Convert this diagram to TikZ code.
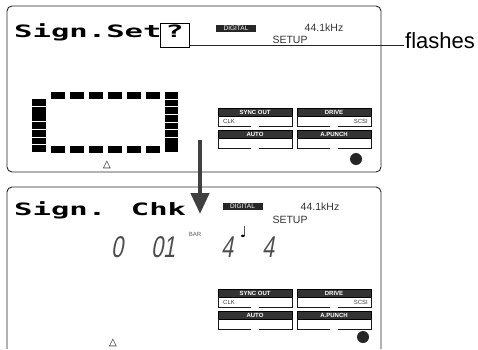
\documentclass[tikz,border=0pt]{standalone}
\usepackage{fontspec}
\setmainfont{Liberation Sans}
\newfontfamily\lcdfont[FakeStretch=1.8]{DejaVu Sans Mono}
\newfontfamily\segfont[FakeStretch=0.72,FakeSlant=0.18]{Liberation Sans}
\newfontfamily\symfont{DejaVu Sans}
\usetikzlibrary{arrows.meta}
\begin{document}
\begin{tikzpicture}[x=1pt,y=-1pt,
  panel/.style={draw=black!85,line width=0.9pt,rounded corners=5pt},
  lcdtext/.style={anchor=base west,inner sep=0pt,font=\lcdfont\bfseries\fontsize{17}{17}\selectfont},
  qframe/.style={draw,line width=0.7pt,anchor=base,inner sep=0pt,minimum width=29pt,
    text height=14pt,text depth=10pt,font=\lcdfont\bfseries\fontsize{17}{17}\selectfont},
  seg/.style={fill=black},
  tag/.style={fill=black!85,text=white,inner sep=0pt,minimum width=40pt,minimum height=7pt,
    font=\fontsize{6.5}{7}\selectfont},
  info/.style={text=black!80,inner sep=0pt,font=\fontsize{10.5}{12}\selectfont},
  keyhead/.style={fill=black!80,draw=black,line width=0.5pt},
  keyname/.style={text=white,inner sep=0pt,font=\bfseries\fontsize{6}{7}\selectfont},
  keyline/.style={draw=black!90,line width=0.7pt},
  keysub/.style={text=black!75,inner sep=0pt,font=\fontsize{6}{7}\selectfont},
  digit/.style={text=black!70,inner sep=0pt,anchor=base west,font=\segfont\fontsize{30}{30}\selectfont},
  barlbl/.style={text=black!65,inner sep=0pt,font=\fontsize{6}{7}\selectfont},
  symglyph/.style={inner sep=0pt,font=\symfont\fontsize{10}{10}\selectfont},
  bigarrow/.style={draw=black!75,line width=4.5pt,-{Triangle[width=18pt,length=21pt]}},
  callout/.style={draw=black!85,line width=0.7pt}]
\useasboundingbox (0,0) rectangle (478,349);

% upper display
\draw[panel] (7,6) rectangle (381,172);
\node[lcdtext] (sset) at (14,37) {Sign.Set};
\node[qframe] (qbox) at (174.5,37) {?};
\node[tag] (dig1) at (236,28.5) {DIGITAL};
\node[info] (rate1) at (324,28) {44.1kHz};
\node[info] (setup1) at (290,39.5) {SETUP};
\node[anchor=base west,inner sep=0pt,font=\fontsize{22}{24}\selectfont] (flashes) at (405,48) {flashes};
\draw[callout] (qbox.east |- flashes.mid west) -- ([xshift=-1.5pt]flashes.mid west);

% blinking frame
\foreach \i in {0,...,5} {
  \fill[seg] ({51+19*\i},92) rectangle ++(14,7);
  \fill[seg] ({51+19*\i},146) rectangle ++(14,7);
}
\foreach \i in {0,...,6} \fill[seg] (32,{99+7.7*\i}) rectangle ++(14,6.8);
\foreach \i in {0,...,7} \fill[seg] (165,{92+7.63*\i}) rectangle ++(13,6.8);
\node[symglyph] (tri1) at (107,165) {△};
\fill[black!85] (356,159) circle (6pt);

% lower display
\draw[panel] (7,349) -- (7,187) -- (381,187) -- (381,349);
\node[lcdtext] (chk) at (14,215) {Sign. Chk};
\node[tag] (dig2) at (242.5,206.5) {DIGITAL};
\node[info] (rate2) at (320,207) {44.1kHz};
\node[info] (setup2) at (290,220) {SETUP};
\node[barlbl] (bar) at (195,234) {BAR};
\node[digit] (d0) at (111,257) {0};
\node[digit] (d01) at (151,257) {01};
\node[digit] (d4a) at (221,257) {4};
\node[digit] (d4b) at (262,257) {4};
\node[symglyph,font=\symfont\fontsize{15}{15}\selectfont] (note) at (243.5,232) {♩};
\node[symglyph] (tri2) at (113,343) {△};
\fill[black!85] (363,337) circle (6pt);

% key blocks, same in both displays
\foreach \dy in {0,181} {
  \begin{scope}[shift={(0,\dy)}]
  \foreach \kx/\ky/\kname in {218/108/SYNC OUT,297/108/DRIVE,218/130/AUTO,297/130/A.PUNCH} {
    \fill[keyhead] (\kx,\ky) rectangle ++(74,8);
    \node[keyname] (key-\dy-\kx-\ky) at (\kx+37,\ky+4) {\kname};
    \draw[keyline] (\kx,\ky+8) -- (\kx,\ky+18) -- (\kx+33,\ky+18);
    \draw[keyline] (\kx+41,\ky+18) -- (\kx+74,\ky+18) -- (\kx+74,\ky+8);
  }
  \node[keysub,anchor=west] (clk-\dy) at (223,121) {CLK};
  \node[keysub,anchor=east] (scsi-\dy) at (368,121) {SCSI};
  \end{scope}
}

% step arrow
\coordinate (arrtop) at (200,140);
\coordinate (arrtip) at (200,214);
\draw[bigarrow] (arrtop) -- (arrtip);
\end{tikzpicture}
\end{document}
